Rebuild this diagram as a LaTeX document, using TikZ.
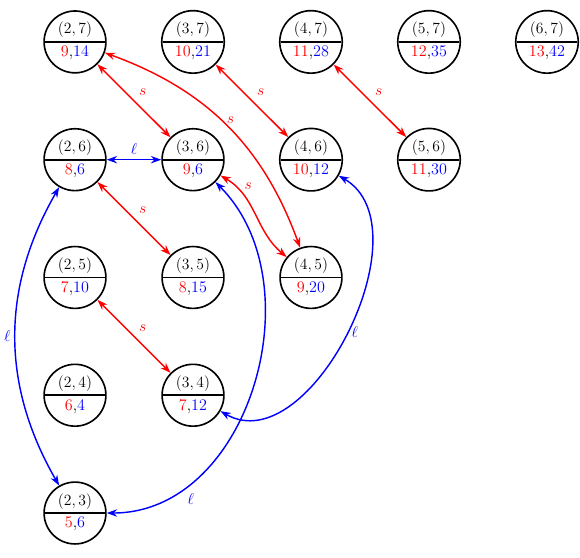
\documentclass[tikz,border=0pt]{standalone}
\usepackage{tikz}
\usetikzlibrary{positioning,shapes.multipart,arrows.meta}
\newcommand{\rb}[2]{\textcolor{red}{#1},\textcolor{blue}{#2}}

\begin{document}
\begin{tikzpicture}[
      x=3.186cm, y=3.18cm,
      every node/.style={font=\fontsize{12.4}{14.5}\selectfont},
      state/.style={draw, circle split, minimum size=1.67cm,
                    line width=1.25pt, inner sep=2.5pt},
      sedge/.style={{Stealth[length=2.8mm, width=2mm]}-{Stealth[length=2.8mm, width=2mm]},
                    red, line width=1.1pt},
      ledge/.style={{Stealth[length=2.8mm, width=2mm]}-{Stealth[length=2.8mm, width=2mm]},
                    blue, line width=1.1pt},
  ]
    \useasboundingbox (1.3644,2.6264) rectangle (6.2797,7.356);

    %% --- Row 7 ---
    \node[state] (n27) at (2,7) {$(2,7)$ \nodepart{lower} \rb{9}{14}};
    \node[state] (n37) at (3,7) {$(3,7)$ \nodepart{lower} \rb{10}{21}};
    \node[state] (n47) at (4,7) {$(4,7)$ \nodepart{lower} \rb{11}{28}};
    \node[state] (n57) at (5,7) {$(5,7)$ \nodepart{lower} \rb{12}{35}};
    \node[state] (n67) at (6,7) {$(6,7)$ \nodepart{lower} \rb{13}{42}};

    %% --- Row 6 ---
    \node[state] (n26) at (2,6) {$(2,6)$ \nodepart{lower} \rb{8}{6}};
    \node[state] (n36) at (3,6) {$(3,6)$ \nodepart{lower} \rb{9}{6}};
    \node[state] (n46) at (4,6) {$(4,6)$ \nodepart{lower} \rb{10}{12}};
    \node[state] (n56) at (5,6) {$(5,6)$ \nodepart{lower} \rb{11}{30}};

    %% --- Rows 5 to 3 ---
    \node[state] (n25) at (2,5) {$(2,5)$ \nodepart{lower} \rb{7}{10}};
    \node[state] (n35) at (3,5) {$(3,5)$ \nodepart{lower} \rb{8}{15}};
    \node[state] (n45) at (4,5) {$(4,5)$ \nodepart{lower} \rb{9}{20}};
    \node[state] (n24) at (2,4) {$(2,4)$ \nodepart{lower} \rb{6}{4}};
    \node[state] (n34) at (3,4) {$(3,4)$ \nodepart{lower} \rb{7}{12}};
    \node[state] (n23) at (2,3) {$(2,3)$ \nodepart{lower} \rb{5}{6}};

    %% --- s edges ---
    \draw[sedge] (n27) -- node[above right] {$s$} (n36);
    \draw[sedge] (n37) -- node[above right] {$s$} (n46);
    \draw[sedge] (n47) -- node[above right] {$s$} (n56);
    \draw[sedge] (n26) -- node[above right] {$s$} (n35);
    \draw[sedge] (n25) -- node[above right] {$s$} (n34);
    \draw[sedge] (n27) to[bend left=25] node[pos=.47, right, inner sep=4pt] {$s$} (n45);
    \draw[sedge] (n36) to[out=-30, in=140] node[pos=.25, above right, inner sep=2pt] {$s$} (n45);

    %% --- l edges ---
    \draw[ledge] (n26) -- node[above] {$\ell$} (n36);
    \draw[ledge] (n26) to[bend right=30] node[left] {$\ell$} (n23);
    \draw[ledge] (n36) to[out=-45, in=0, looseness=1.05] node[pos=.8, below right] {$\ell$} (n23);
    \draw[ledge] (n46) to[out=-30, in=-30] node[pos=.5, right] {$\ell$} (n34);
  \end{tikzpicture}
\end{document}
